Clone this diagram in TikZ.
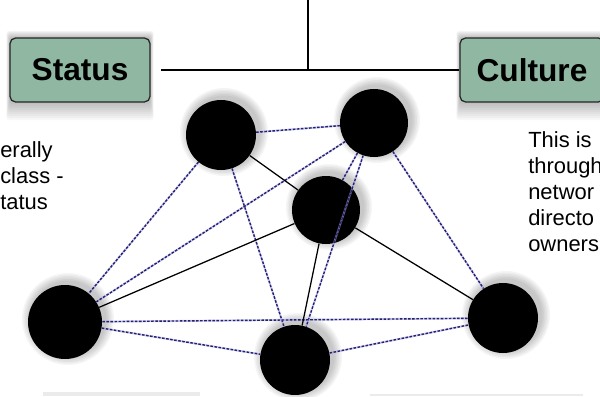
\documentclass[tikz,border=0pt]{standalone}
\usepackage{fontspec}
\setmainfont{Liberation Sans}
\definecolor{tagfill}{RGB}{143,183,161}
\definecolor{linkblue}{RGB}{40,34,95}

\tikzset{
  tag/.style={draw=black!85, line width=0.9pt, fill=tagfill, rounded corners=4pt,
    minimum width=3.5cm, minimum height=1.6cm,
    font=\fontsize{22.5}{26}\selectfont\bfseries},
  blob/.style={circle, fill=black, inner sep=0pt},
  tie/.style={black, line width=0.9pt},
  link/.style={linkblue, line width=1pt, dash pattern=on 1.8pt off 1.1pt,
    preaction={draw=blue!35, line width=1.4pt, opacity=0.6, solid}},
  note/.style={align=left, inner sep=0pt, font=\fontsize{15.6}{18.6}\selectfont},
}

\begin{document}
\begin{tikzpicture}[x=0.025cm, y=-0.025cm]
  \useasboundingbox (0,0) rectangle (600,396);
  \clip (0,0) rectangle (600,396);

  % soft grey shadows behind the headings
  \foreach \k in {1,...,9}{
    \fill[black, opacity=0.03, rounded corners=2pt]
      (10-\k*0.4, 38-\k*0.8) rectangle (150+\k*0.4, 102+\k*2);
    \fill[black, opacity=0.03, rounded corners=2pt]
      (460-\k*0.4, 38-\k*0.8) rectangle (604+\k*0.4, 102+\k*2);
  }
  % edges of the shadows further down
  \fill[black!8] (43,392) rectangle (200,396);
  \fill[black!8] (370,394) rectangle (583,396);

  % headings and the line joining them
  \node[tag] (status) at (80,70) {Status};
  \node[tag, minimum width=3.6cm] (culture) at (532,70) {Culture};
  \coordinate (stem) at (308,0);
  \coordinate (fork) at (308,69);
  \draw[line width=1.9pt] (stem) -- (fork);
  \draw[line width=1.9pt, shorten <=0.27cm] (status.east) -- (culture.west);

  % text under the headings
  \node[note, anchor=north west] (statustext) at (0,141) {erally\\class -\\tatus};
  \node[note, anchor=north west] (culturetext) at (528,131) {This is\\through\\networ\\directo\\owners};

  % the network: members with a soft shadow
  \foreach \n/\x/\y/\r in {a/221/135/35, b/374/123/34, c/326/210/34,
                           d/65/322/37, e/295/360/35, f/503/318/35}{
    \foreach \k in {1,...,6}
      \fill[black, opacity=0.04] (\x+3,\y-3) circle[radius={(\r+\k*1.5)*0.025cm}];
    \node[blob, minimum size={2*\r*0.025cm}] (\n) at (\x,\y) {};
  }

  % weak ties (dashed) and strong ties (solid)
  \foreach \u/\v in {a/b, a/d, a/e, b/d, b/e, b/f, b/c, d/f, d/e, e/f}
    \draw[link] (\u) -- (\v);
  \foreach \u/\v in {a/c, c/d, c/e, c/f}
    \draw[tie] (\u) -- (\v);
\end{tikzpicture}
\end{document}
